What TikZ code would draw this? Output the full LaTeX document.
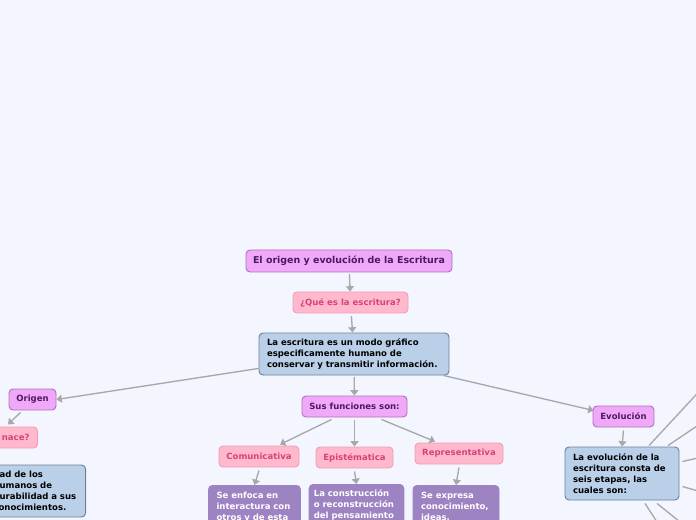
\documentclass[tikz,border=0pt]{standalone}
\usepackage{fontspec}
\setmainfont{DejaVu Sans}
\usetikzlibrary{arrows.meta,calc}
\definecolor{bg}{HTML}{F3F6FE}
\definecolor{vfill}{HTML}{F0A8F8}
\definecolor{vdraw}{HTML}{B070C0}
\definecolor{vtext}{HTML}{4E1A5E}
\definecolor{pfill}{HTML}{FFB8CC}
\definecolor{pdraw}{HTML}{F39CB4}
\definecolor{ptext}{HTML}{D6437A}
\definecolor{bfill}{HTML}{BAD0E8}
\definecolor{bdraw}{HTML}{6F7E98}
\definecolor{ufill}{HTML}{9D83C2}
\definecolor{edge}{HTML}{A8A8A8}
\tikzset{
  x=0.75pt,y=-0.75pt,
  base/.style={rounded corners=3pt,line width=0.7pt,inner sep=0pt,
    font=\fontsize{6.4}{8.25}\selectfont\bfseries},
  vnode/.style={base,fill=vfill,draw=vdraw,text=vtext},
  pnode/.style={base,fill=pfill,draw=pdraw,text=ptext},
  bnode/.style={base,fill=bfill,draw=bdraw,text=black,align=left,inner xsep=6pt},
  unode/.style={base,fill=ufill,draw=ufill,text=white,align=left,inner xsep=6pt,anchor=north},
  conn/.style={draw=edge,line width=1pt,-{Triangle[length=4pt,width=6pt]}},
  plain/.style={draw=edge,line width=1pt},
}
\begin{document}
\begin{tikzpicture}
\useasboundingbox (0,0) rectangle (696,520);
\clip (0,0) rectangle (696,520);
\fill[bg] (0,0) rectangle (696,520);

\node[vnode,minimum width=154.5pt,minimum height=16.5pt,font=\fontsize{7.1}{8.5}\selectfont\bfseries] (title) at (349,261) {El origen y evolución de la Escritura};
\node[pnode,minimum width=86.25pt,minimum height=15.75pt] (que) at (350.5,302.5) {¿Qué es la escritura?};
\node[bnode,text width=130.5pt,minimum height=31.5pt] (main) at (354,354) {La escritura es un modo gráfico\\especificamente humano de\\conservar y transmitir información.};

\node[vnode,minimum width=35.25pt,minimum height=15.75pt] (origen) at (32.5,399.5) {Origen};
\node[pnode,minimum height=15.75pt,inner xsep=6pt,anchor=east] (nace) at (38,437.5) {¿Cómo nace?};
\node[bnode,text width=63pt,minimum height=39pt,anchor=east] (left) at (86,491) {dad de los\\humanos de\\durabilidad a sus\\conocimientos.};

\node[vnode,minimum width=78.75pt,minimum height=15.75pt] (sus) at (354.5,406.5) {Sus funciones son:};
\node[pnode,minimum width=60pt,minimum height=15.75pt] (comun) at (259,456.5) {Comunicativa};
\node[pnode,minimum width=57.75pt,minimum height=15.75pt] (epis) at (354.5,457.5) {Epistématica};
\node[pnode,minimum width=66pt,minimum height=15.75pt] (repr) at (459,453.5) {Representativa};

\node[unode,text width=57pt,inner ysep=5pt,text depth=30pt] (comunbox) at (254.5,485) {Se enfoca en\\interactura con\\otros y de esta};
\node[unode,text width=64pt,inner xsep=3.5pt,inner ysep=4pt,text depth=30pt] (episbox) at (356.5,484) {La construcción\\o reconstrucción\\del pensamiento};
\node[unode,text width=52.5pt,inner ysep=5pt,text depth=30pt] (reprbox) at (456,485) {Se expresa\\conocimiento,\\ideas,};

\node[vnode,minimum width=45.75pt,minimum height=15.75pt] (evol) at (623.5,416.5) {Evolución};
\node[bnode,text width=73.5pt,minimum height=39.75pt] (rb) at (622,473.5) {La evolución de la\\escritura consta de\\seis etapas, las\\cuales son:};

\draw[conn,shorten <=1pt] (title) -- (que);
\draw[conn,shorten <=2pt] (que) -- (main);
\draw[conn,shorten <=1pt] (main) -- (sus);
\draw[conn] ($(main.south west)+(0,-7)$) -- (origen.east);
\draw[conn] ($(main.south east)+(-6,0)$) -- ($(evol.west)+(1,-6)$);
\draw[conn] ($(origen.south)+(-12,2)$) -- ($(nace.north east)+(-30,-2)$);
\draw[conn] ($(sus.south)+(-23,2)$) -- ($(comun.north)+(21,-1)$);
\draw[conn] ($(sus.south)+(0,3)$) -- (epis.north);
\draw[conn] ($(sus.south)+(27,2)$) -- ($(repr.north)+(-24,-1)$);
\draw[conn] ($(comun.south)+(0,3)$) -- (comunbox.north);
\draw[conn] ($(epis.south)+(0,3)$) -- (episbox.north);
\draw[conn] ($(repr.south)+(0,3)$) -- (reprbox.north);
\draw[conn] ($(evol.south)+(0,3)$) -- (rb.north);

\coordinate (e1) at (720,369);
\coordinate (e2) at (740,397);
\coordinate (e3) at (760,444);
\coordinate (e4) at (760,509);
\coordinate (e5) at (670,542);
\coordinate (e6) at (700,538);
\draw[plain] ($(rb.north)+(27,-1)$) -- (e1);
\draw[plain] ($(rb.north)+(46,-1)$) -- (e2);
\draw[plain] ($(rb.east)+(3,-12)$) -- (e3);
\draw[plain] ($(rb.east)+(3,13)$) -- (e4);
\draw[plain] ($(rb.south)+(23,3)$) -- (e5);
\draw[plain] ($(rb.south)+(35,3)$) -- (e6);
\end{tikzpicture}
\end{document}
